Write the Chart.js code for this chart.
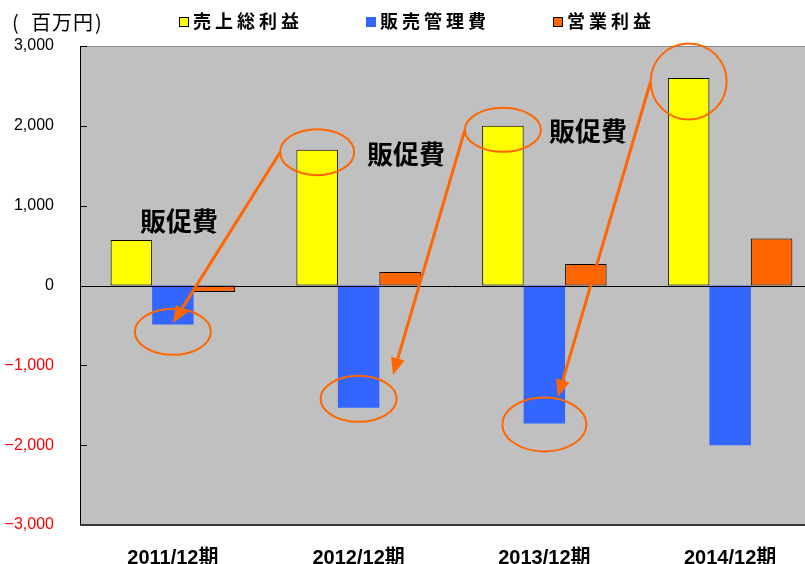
<!DOCTYPE html>
<html>
<head>
<meta charset="utf-8">
<script src="https://cdn.jsdelivr.net/npm/chart.js@4"></script>
<style>
  body { margin: 0; background: #fff; overflow: hidden; }
  #wrap { width: 805px; height: 564px; overflow: hidden; }
</style>
</head>
<body>
<div id="wrap"><canvas id="chart" width="823" height="564"></canvas></div>
<script>
const periods = ['2011/12期', '2012/12期', '2013/12期', '2014/12期'];
const seriesNames = ['売上総利益', '販売管理費', '営業利益'];
const grossProfit = [570, 1700, 2000, 2600];
const sgaExpenses = [-490, -1530, -1730, -2000];
const operatingProfit = [-80, 170, 270, 590];
const yTicks = [-3000, -2000, -1000, 0, 1000, 2000, 3000];

// call-outs drawn on top: rings on bar ends (dataset, category, value)
const rings = [
  { ds: 1, cat: 0, value: -580, rx: 38, ry: 23 },
  { ds: 0, cat: 1, value: 1670, rx: 37, ry: 23 },
  { ds: 1, cat: 1, value: -1420, rx: 38, ry: 23 },
  { ds: 0, cat: 2, value: 1950, rx: 38, ry: 22 },
  { ds: 1, cat: 2, value: -1740, rx: 42, ry: 27 },
  { ds: 0, cat: 3, value: 2555, rx: 38, ry: 38 }
];
// arrows start at the left side of a ring and point at (category, value)
const arrows = [
  { from: 1, cat: 0.0, value: -470 },
  { from: 3, cat: 1.185, value: -1120 },
  { from: 5, cat: 2.073, value: -1395 }
];
const notes = [
  { text: '販促費', cat: 0.033, value: 808 },
  { text: '販促費', cat: 1.255, value: 1647 },
  { text: '販促費', cat: 2.235, value: 1935 }
];

const ORANGE = '#ff6600';

function spacedText(ctx, str, x, y, step) {
  for (const ch of str) {
    ctx.fillText(ch, x, y);
    x += step;
  }
}

function drawArrow(ctx, x0, y0, x1, y1) {
  const ang = Math.atan2(y1 - y0, x1 - x0);
  const head = 17, half = 7;
  const bx = x1 - head * Math.cos(ang), by = y1 - head * Math.sin(ang);
  ctx.beginPath();
  ctx.moveTo(x0, y0);
  ctx.lineTo(bx, by);
  ctx.stroke();
  ctx.beginPath();
  ctx.moveTo(x1, y1);
  ctx.lineTo(bx + half * Math.sin(ang), by - half * Math.cos(ang));
  ctx.lineTo(bx - half * Math.sin(ang), by + half * Math.cos(ang));
  ctx.closePath();
  ctx.fill();
}

const decor = {
  id: 'decor',
  beforeDraw(chart) {
    const { ctx, chartArea: a } = chart;
    ctx.save();
    ctx.fillStyle = '#c0c0c0';
    ctx.fillRect(a.left, a.top, a.right - a.left, a.bottom - a.top);
    ctx.restore();
  },
  afterDatasetsDraw(chart) {
    const { ctx, chartArea: a, scales } = chart;
    const y = scales.y, x = scales.x;
    ctx.save();
    // frame
    ctx.lineWidth = 1;
    ctx.strokeStyle = '#8a8a8a';
    ctx.beginPath();
    ctx.moveTo(a.left, a.top + 0.5);
    ctx.lineTo(a.right, a.top + 0.5);
    ctx.stroke();
    ctx.strokeStyle = '#000';
    ctx.beginPath();
    ctx.moveTo(a.left + 0.5, a.top);
    ctx.lineTo(a.left + 0.5, a.bottom);
    yTicks.forEach(v => {
      const py = Math.round(y.getPixelForValue(v)) + 0.5;
      ctx.moveTo(a.left, py);
      ctx.lineTo(a.left + 7, py);
    });
    const zy = Math.round(y.getPixelForValue(0)) + 0.5;
    ctx.moveTo(a.left, zy);
    ctx.lineTo(a.right, zy);
    ctx.stroke();
    ctx.strokeStyle = '#3a3a3a';
    ctx.lineWidth = 2;
    ctx.beginPath();
    ctx.moveTo(a.left, a.bottom);
    ctx.lineTo(a.right, a.bottom);
    ctx.stroke();

    // call-outs
    const ringPos = rings.map(r => {
      const bar = chart.getDatasetMeta(r.ds).data[r.cat];
      return { cx: bar.x, cy: y.getPixelForValue(r.value), rx: r.rx, ry: r.ry };
    });
    ctx.strokeStyle = ORANGE;
    ctx.fillStyle = ORANGE;
    ctx.lineWidth = 2;
    ringPos.forEach(p => {
      ctx.beginPath();
      ctx.ellipse(p.cx, p.cy, p.rx, p.ry, 0, 0, Math.PI * 2);
      ctx.stroke();
    });
    ctx.lineWidth = 3;
    arrows.forEach(ar => {
      const p = ringPos[ar.from];
      drawArrow(ctx, p.cx - p.rx, p.cy, x.getPixelForValue(ar.cat), y.getPixelForValue(ar.value));
    });
    ctx.fillStyle = '#000';
    ctx.font = 'bold 26px "Noto Sans CJK JP", sans-serif';
    ctx.textAlign = 'center';
    ctx.textBaseline = 'middle';
    notes.forEach(n => {
      ctx.fillText(n.text, x.getPixelForValue(n.cat), y.getPixelForValue(n.value));
    });
    ctx.restore();
  },
  afterDraw(chart) {
    const { ctx } = chart;
    ctx.save();
    ctx.textBaseline = 'middle';
    ctx.textAlign = 'left';
    ctx.fillStyle = '#000';
    // unit label
    ctx.font = '20px "Noto Sans CJK JP", sans-serif';
    ctx.fillText('(', 12, 22);
    spacedText(ctx, '百万円', 31, 22, 21);
    ctx.fillText(')', 95, 22);
    // legend
    ctx.font = 'bold 18px "Noto Sans CJK JP", sans-serif';
    chart.data.datasets.forEach((ds, i) => {
      const bx = 179 + i * 187;
      ctx.fillStyle = ds.backgroundColor;
      ctx.fillRect(bx, 17, 10, 10);
      if (ds.borderWidth) {
        ctx.strokeStyle = '#000';
        ctx.lineWidth = 1;
        ctx.strokeRect(bx + 0.5, 17.5, 9, 9);
      }
      ctx.fillStyle = '#000';
      spacedText(ctx, ds.label, bx + 14, 21, 22);
    });
    ctx.restore();
  }
};

new Chart(document.getElementById('chart').getContext('2d'), {
  type: 'bar',
  data: {
    labels: periods,
    datasets: [
      { label: seriesNames[0], data: grossProfit, backgroundColor: '#ffff00', borderColor: '#000', borderWidth: 1, borderSkipped: false },
      { label: seriesNames[1], data: sgaExpenses, backgroundColor: '#3366ff', borderWidth: 0 },
      { label: seriesNames[2], data: operatingProfit, backgroundColor: ORANGE, borderColor: '#000', borderWidth: 1, borderSkipped: false }
    ]
  },
  options: {
    responsive: false,
    animation: false,
    layout: { padding: { top: 46, right: 0, left: 0, bottom: 0 } },
    datasets: { bar: { categoryPercentage: 0.67, barPercentage: 1 } },
    plugins: {
      legend: { display: false },
      tooltip: { enabled: false }
    },
    scales: {
      x: {
        grid: { display: false },
        border: { display: false },
        ticks: {
          color: '#000',
          padding: 13,
          maxRotation: 0,
          autoSkip: false,
          font: { size: 20, weight: 'bold', family: '"Liberation Sans", "Noto Sans CJK JP", sans-serif' }
        },
        afterFit(s) { s.height = 39; }
      },
      y: {
        min: -3000,
        max: 3000,
        grid: { display: false },
        border: { display: false },
        afterBuildTicks(s) { s.ticks = yTicks.map(v => ({ value: v })); },
        afterFit(s) { s.width = 80; },
        ticks: {
          padding: 18,
          color: c => c.tick.value < 0 ? '#ff0000' : '#000',
          font: { size: 16, family: '"Liberation Sans", Arial, sans-serif' },
          callback: v => (v < 0 ? '−' : '') + Math.abs(v).toLocaleString('en-US')
        }
      }
    }
  },
  plugins: [decor]
});
</script>
</body>
</html>
